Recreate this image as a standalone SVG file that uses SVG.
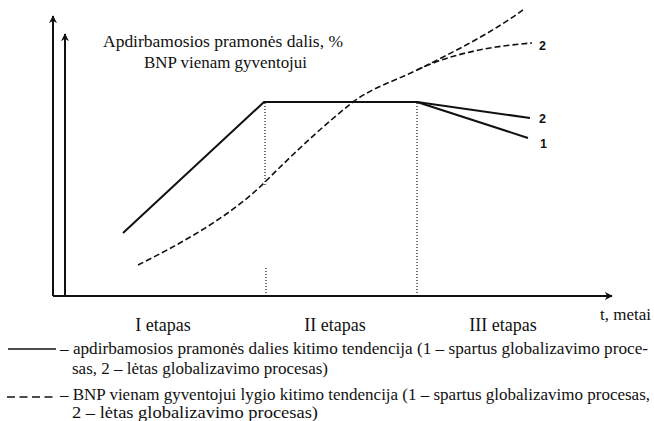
<svg xmlns="http://www.w3.org/2000/svg" width="654" height="421" viewBox="0 0 654 421">
<style>
.serif{font-family:"Liberation Serif","Times New Roman",serif;font-size:17px;fill:#111}
.ax{font-size:18px}
.num{font-family:"Liberation Sans",Arial,sans-serif;font-size:12.5px;font-weight:bold;fill:#111}
.axis{stroke:#111;stroke-width:2;fill:none}
.solid{stroke:#111;stroke-width:2;fill:none;stroke-linejoin:round}
.dash{stroke:#111;stroke-width:1.6;fill:none;stroke-dasharray:6 3}
.dot{stroke:#111;stroke-width:1.2;fill:none;stroke-dasharray:1 2}
</style>
<defs>
<marker id="arr" viewBox="0 0 10 10" refX="9" refY="5" markerWidth="4" markerHeight="4" orient="auto" markerUnits="strokeWidth">
<path d="M0,0 L10,5 L0,10 L3,5 Z" fill="#111"/>
</marker>
</defs>
<rect width="654" height="421" fill="#fff"/>
<g id="axes">
<line class="axis" x1="53" y1="296" x2="53" y2="16" marker-end="url(#arr)"/>
<line class="axis" x1="65" y1="296" x2="65" y2="34" marker-end="url(#arr)"/>
<line class="axis" x1="53" y1="296" x2="612" y2="296" marker-end="url(#arr)"/>
</g>
<g id="guides">
<line class="dot" x1="265" y1="103" x2="265" y2="186"/>
<line class="dot" x1="266" y1="268" x2="266" y2="295"/>
<line class="dot" x1="417" y1="103" x2="417" y2="295"/>
</g>
<g id="connectors">
<path id="industry-1" class="solid" d="M123,233 L264,102 L417,102 L528,138"/>
<path id="industry-2" class="solid" d="M417,102 L530,118"/>
<path id="gnp-1" class="dash" d="M138,265 C178,245 230,217 265,182 C295,152 325,124 353,102 C373,87 395,81 417,70 C452,53 495,31 524,9"/>
<path id="gnp-2" class="dash" d="M417,70 C455,52 495,46 532,43"/>
</g>
<g id="curve-labels">
<text class="num" x="539" y="50">2</text>
<text class="num" x="539" y="123">2</text>
<text class="num" x="540" y="148">1</text>
</g>
<g id="title">
<text class="serif" x="103" y="47" textLength="240" lengthAdjust="spacingAndGlyphs">Apdirbamosios pramonės dalis, %</text>
<text class="serif" x="144" y="68" textLength="163" lengthAdjust="spacingAndGlyphs">BNP vienam gyventojui</text>
</g>
<g id="axis-labels">
<text class="serif ax" x="163" y="331" text-anchor="middle">I etapas</text>
<text class="serif ax" x="335" y="331" text-anchor="middle">II etapas</text>
<text class="serif ax" x="503" y="331" text-anchor="middle">III etapas</text>
<text class="serif" x="600" y="320">t, metai</text>
</g>
<g id="legend">
<line x1="8" y1="349" x2="56" y2="349" stroke="#111" stroke-width="1.3"/>
<text class="serif" x="60" y="354" textLength="588" lengthAdjust="spacingAndGlyphs">– apdirbamosios pramonės dalies kitimo tendencija (1 – spartus globalizavimo proce-</text>
<text class="serif" x="72" y="374" textLength="256" lengthAdjust="spacingAndGlyphs">sas, 2 – lėtas globalizavimo procesas)</text>
<line x1="7" y1="397" x2="56" y2="397" stroke="#111" stroke-width="1.3" stroke-dasharray="8 4.5"/>
<text class="serif" x="60" y="400" textLength="590" lengthAdjust="spacingAndGlyphs">– BNP vienam gyventojui lygio kitimo tendencija (1 – spartus globalizavimo procesas,</text>
<text class="serif" x="72" y="418" textLength="246" lengthAdjust="spacingAndGlyphs">2 – lėtas globalizavimo procesas)</text>
</g>
</svg>
